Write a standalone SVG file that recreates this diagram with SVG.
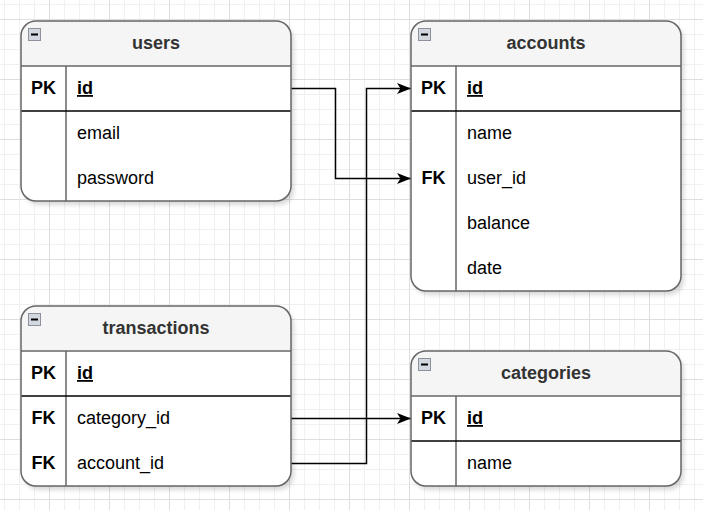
<svg xmlns="http://www.w3.org/2000/svg" width="703" height="510" viewBox="0 0 703 510">
<style>
text{font-family:"Liberation Sans",Arial,Helvetica,sans-serif;font-size:18px;}
.hdr{fill:#f5f5f5;stroke:none;}
.body{fill:#ffffff;stroke:none;}
.frame{fill:none;stroke:#666666;stroke-width:1.5;}
.div{stroke:#666666;stroke-width:1.5;fill:none;}
.pksep{stroke:#000000;stroke-width:1.5;}
.title{font-weight:bold;fill:#333333;text-anchor:middle;}
.key{font-weight:bold;fill:#000;text-anchor:middle;}
.fld{fill:#000;}
.pkf{fill:#000;font-weight:bold;text-decoration:underline;}
.conn{fill:none;stroke:#000;stroke-width:1.5;}
.ib{fill:#d3d7df;stroke:#8c919c;stroke-width:1;}
.im{stroke:#000;stroke-width:2;}
</style>
<defs>
<pattern id="grid" x="49" y="19" width="60" height="60" patternUnits="userSpaceOnUse">
<path d="M15.5 0V60M30.5 0V60M45.5 0V60M0 15.5H60M0 30.5H60M0 45.5H60" stroke="#f0f0f0" stroke-width="1" fill="none"/>
<path d="M0.5 0V60M0 0.5H60" stroke="#dedede" stroke-width="1" fill="none"/>
</pattern>
<filter id="sh" x="-10%" y="-10%" width="125%" height="125%">
<feDropShadow dx="3" dy="4" stdDeviation="2" flood-color="#000" flood-opacity="0.15"/>
</filter>
<marker id="arr" viewBox="0 0 14 12" refX="14" refY="6" markerWidth="14" markerHeight="12" markerUnits="userSpaceOnUse" orient="auto">
<path d="M0 0.5L14 6L0 11.5L3.5 6Z" fill="#000"/>
</marker>
</defs>
<rect width="703" height="510" fill="#ffffff"/>
<rect width="703" height="510" fill="url(#grid)"/>

<g id="connectors">
<path class="conn" d="M291 88.5H335.5V178.5H411" marker-end="url(#arr)"/>
<path class="conn" d="M291 418.5H411" marker-end="url(#arr)"/>
<path class="conn" d="M291 463.5H366.5V88.5H411" marker-end="url(#arr)"/>
</g>

<g id="users">
<rect class="body" x="21" y="21" width="270" height="180" rx="15" filter="url(#sh)"/>
<path class="hdr" d="M21 66V36A15 15 0 0 1 36 21H276A15 15 0 0 1 291 36V66Z"/>
<line class="div" x1="21" y1="66" x2="291" y2="66"/>
<line class="div" x1="66" y1="66" x2="66" y2="201"/>
<line class="pksep" x1="21" y1="111" x2="291" y2="111"/>
<rect class="frame" x="21" y="21" width="270" height="180" rx="15"/>
<rect class="ib" x="28.5" y="28.5" width="12" height="12"/>
<line class="im" x1="31" y1="34.5" x2="38" y2="34.5"/>
<text class="title" x="156" y="49">users</text>
<text class="key" x="43.5" y="94">PK</text>
<text class="pkf" x="77" y="94">id</text>
<text class="fld" x="77" y="139">email</text>
<text class="fld" x="77" y="184">password</text>
</g>

<g id="accounts">
<rect class="body" x="411" y="21" width="270" height="270" rx="15" filter="url(#sh)"/>
<path class="hdr" d="M411 66V36A15 15 0 0 1 426 21H666A15 15 0 0 1 681 36V66Z"/>
<line class="div" x1="411" y1="66" x2="681" y2="66"/>
<line class="div" x1="456" y1="66" x2="456" y2="291"/>
<line class="pksep" x1="411" y1="111" x2="681" y2="111"/>
<rect class="frame" x="411" y="21" width="270" height="270" rx="15"/>
<rect class="ib" x="418.5" y="28.5" width="12" height="12"/>
<line class="im" x1="421" y1="34.5" x2="428" y2="34.5"/>
<text class="title" x="546" y="49">accounts</text>
<text class="key" x="433.5" y="94">PK</text>
<text class="pkf" x="467" y="94">id</text>
<text class="fld" x="467" y="139">name</text>
<text class="key" x="433.5" y="184">FK</text>
<text class="fld" x="467" y="184">user_id</text>
<text class="fld" x="467" y="229">balance</text>
<text class="fld" x="467" y="274">date</text>
</g>

<g id="transactions">
<rect class="body" x="21" y="306" width="270" height="180" rx="15" filter="url(#sh)"/>
<path class="hdr" d="M21 351V321A15 15 0 0 1 36 306H276A15 15 0 0 1 291 321V351Z"/>
<line class="div" x1="21" y1="351" x2="291" y2="351"/>
<line class="div" x1="66" y1="351" x2="66" y2="486"/>
<line class="pksep" x1="21" y1="396" x2="291" y2="396"/>
<rect class="frame" x="21" y="306" width="270" height="180" rx="15"/>
<rect class="ib" x="28.5" y="313.5" width="12" height="12"/>
<line class="im" x1="31" y1="319.5" x2="38" y2="319.5"/>
<text class="title" x="156" y="334">transactions</text>
<text class="key" x="43.5" y="379">PK</text>
<text class="pkf" x="77" y="379">id</text>
<text class="key" x="43.5" y="424">FK</text>
<text class="fld" x="77" y="424">category_id</text>
<text class="key" x="43.5" y="469">FK</text>
<text class="fld" x="77" y="469">account_id</text>
</g>

<g id="categories">
<rect class="body" x="411" y="351" width="270" height="135" rx="15" filter="url(#sh)"/>
<path class="hdr" d="M411 396V366A15 15 0 0 1 426 351H666A15 15 0 0 1 681 366V396Z"/>
<line class="div" x1="411" y1="396" x2="681" y2="396"/>
<line class="div" x1="456" y1="396" x2="456" y2="486"/>
<line class="pksep" x1="411" y1="441" x2="681" y2="441"/>
<rect class="frame" x="411" y="351" width="270" height="135" rx="15"/>
<rect class="ib" x="418.5" y="358.5" width="12" height="12"/>
<line class="im" x1="421" y1="364.5" x2="428" y2="364.5"/>
<text class="title" x="546" y="379">categories</text>
<text class="key" x="433.5" y="424">PK</text>
<text class="pkf" x="467" y="424">id</text>
<text class="fld" x="467" y="469">name</text>
</g>
</svg>
